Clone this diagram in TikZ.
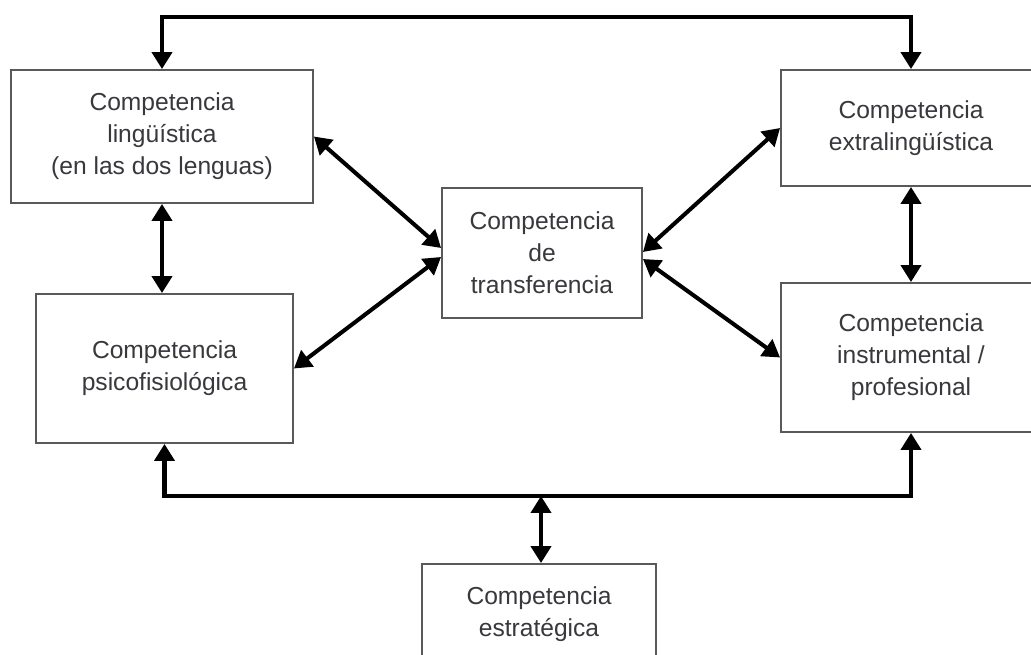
\documentclass[tikz,border=0pt]{standalone}
\usepackage{fontspec}
\setmainfont{Liberation Sans}
\usepackage{tikz}
\usetikzlibrary{
  arrows.meta,
  positioning
}
\usepackage{xcolor}
\definecolor{boxGray}{rgb}{0.35,0.35,0.35}
\definecolor{textGray}{rgb}{0.22,0.22,0.24}
\tikzset{
  compBox/.style={
    rectangle,
    draw=boxGray,
    line width=1.1pt,
    fill=white,
    align=center,
    inner sep=0pt,
    text=textGray,
    font=\fontsize{14}{18.2}\selectfont
  }
}
\tikzset{
  link/.style={
    line width=2.3pt,
    draw=black
  }
}

\begin{document}
\begin{tikzpicture}[x=0.02cm, y=-0.02cm,
    >={Triangle[length=0.34cm, width=0.4cm]}]
    \clip (0,0) rectangle (1031,655);
    \fill[white] (0,0) rectangle (1031,655);
    \node[compBox, minimum width=6.04cm, minimum height=2.66cm]
      (ling) at (162,136.5) {Competencia\\ lingüística\\ (en las dos lenguas)};
    \node[compBox, minimum width=5.2cm, minimum height=2.32cm]
      (extra) at (911,128) {Competencia\\ extralingüística};
    \node[compBox, minimum width=4cm, minimum height=2.6cm]
      (transf) at (542,253) {Competencia\\ de\\ transferencia};
    \node[compBox, minimum width=5.14cm, minimum height=2.98cm]
      (psico) at (164.5,368.5) {Competencia\\ psicofisiológica};
    \node[compBox, minimum width=5.2cm, minimum height=2.98cm]
      (instr) at (911,357.5) {Competencia\\ instrumental /\\ profesional};
    \node[compBox, minimum width=4.68cm, minimum height=2cm]
      (estrat) at (539,614) {Competencia\\ estratégica};
    \coordinate (topLine) at (536,17);
    \coordinate (botLine) at (541,496);
    % frame lines
    \draw[link,<->] (ling.north) |- (topLine) -| (extra.north);
    \draw[link,<->] (psico.south) |- (botLine) -| (instr.south);
    \draw[link,<->] (botLine) -- (botLine |- estrat.north);
    % verticals
    \draw[link,<->] (ling.south) -- (ling.south |- psico.north);
    \draw[link,<->] (extra.south) -- (instr.north);
    % diagonals
    \draw[link,<->] (ling.east) -- ([yshift=0.1cm]transf.west);
    \draw[link,<->] (psico.east) -- ([yshift=-0.08cm]transf.west);
    \draw[link,<->] ([yshift=0.02cm]transf.east) -- (extra.west);
    \draw[link,<->] ([yshift=-0.12cm]transf.east) -- (instr.west);
\end{tikzpicture}
\end{document}
